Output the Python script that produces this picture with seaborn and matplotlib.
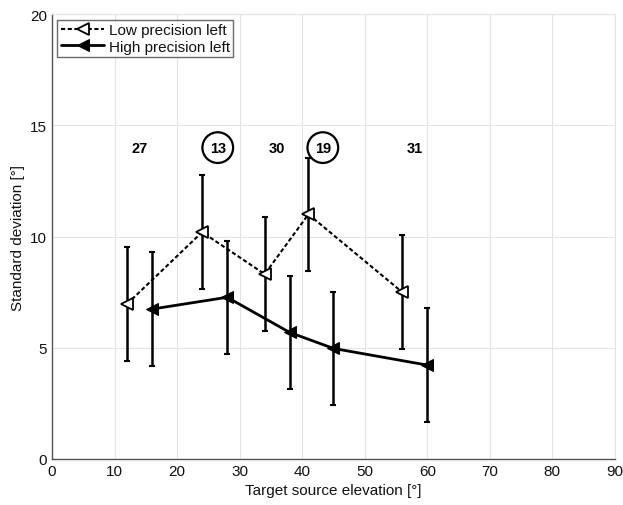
import numpy as np
import pandas as pd
import seaborn as sns
import matplotlib.pyplot as plt

# values
low_x = [12, 24, 34, 41, 56]
low_y = [6.97, 10.2, 8.31, 11.0, 7.5]
low_err = [2.55, 2.55, 2.55, 2.55, 2.55]

high_x = [16, 28, 38, 45, 60]
high_y = [6.74, 7.27, 5.69, 4.97, 4.22]
high_err = [2.55, 2.55, 2.55, 2.55, 2.55]

count_x = [14, 26.5, 36, 43.3, 58]
count_labels = ['27', '13', '30', '19', '31']
count_circled = [False, True, False, True, False]

sns.set_style('whitegrid')
plt.rcParams['font.family'] = ['Liberation Sans', 'DejaVu Sans']
plt.rcParams['text.color'] = '#111111'
plt.rcParams['axes.labelcolor'] = '#111111'
plt.rcParams['xtick.color'] = '#111111'
plt.rcParams['ytick.color'] = '#111111'

fig = plt.figure(figsize=(6.23, 5.06), dpi=100)
ax = fig.add_axes([0.0835, 0.091, 0.9035, 0.879])

low = pd.DataFrame({'x': low_x, 'y': low_y})
high = pd.DataFrame({'x': high_x, 'y': high_y})

ax.errorbar(low_x, low_y, yerr=low_err, fmt='none', ecolor='black',
            elinewidth=1.8, capsize=2.5, capthick=1.5, zorder=2)
ax.errorbar(high_x, high_y, yerr=high_err, fmt='none', ecolor='black',
            elinewidth=1.8, capsize=2.5, capthick=1.5, zorder=2)

sns.lineplot(data=low, x='x', y='y', ax=ax, color='black', linestyle=(0, (2, 1.2)),
             linewidth=1.5, marker='<', markersize=8, markerfacecolor='white',
             markeredgecolor='black', markeredgewidth=1.3, label='Low precision left',
             zorder=3)
sns.lineplot(data=high, x='x', y='y', ax=ax, color='black', linestyle='-',
             linewidth=2, marker='<', markersize=8, markerfacecolor='black',
             markeredgecolor='black', label='High precision left', zorder=3)

for xv, lab, circ in zip(count_x, count_labels, count_circled):
    if circ:
        ax.text(xv, 14.0, lab, ha='center', va='center', fontsize=10.5, fontweight='bold',
                color='black',
                bbox=dict(boxstyle='circle,pad=0.5', facecolor='white',
                          edgecolor='black', linewidth=1.6))
    else:
        ax.text(xv, 14.0, lab, ha='center', va='center', fontsize=10.5, fontweight='bold',
                color='black')

ax.set_xlim(0, 90)
ax.set_ylim(0, 20)
ax.set_xticks(np.arange(0, 91, 10))
ax.set_yticks([0, 5, 10, 15, 20])
ax.tick_params(labelsize=11, direction='in', length=3, color='#555555')
ax.set_xlabel('Target source elevation [°]', fontsize=11)
ax.set_ylabel('Standard deviation [°]', fontsize=11)
ax.grid(True, color='#e3e3e3', linewidth=0.8)
for side in ['left', 'bottom']:
    ax.spines[side].set_color('#555555')
    ax.spines[side].set_linewidth(1.0)
for side in ['top', 'right']:
    ax.spines[side].set_color('#e3e3e3')

leg = ax.legend(loc='upper left', fontsize=11, frameon=True, fancybox=False,
                edgecolor='#444444', handlelength=2.8, borderpad=0.25,
                labelspacing=0.15, handletextpad=0.3, borderaxespad=0.35)
leg.get_frame().set_linewidth(1.0)

fig.savefig('out.png', dpi=100)
